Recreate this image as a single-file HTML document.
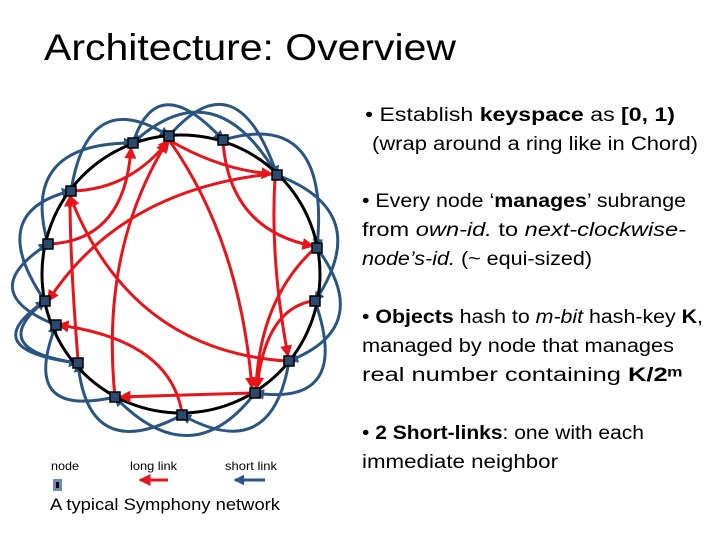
<!DOCTYPE html>
<html><head><meta charset="utf-8"><style>
html,body{margin:0;padding:0;background:#fff;}
svg{display:block}
text{font-family:"Liberation Sans",sans-serif;}
</style></head><body>
<svg width="720" height="540" viewBox="0 0 720 540" xmlns="http://www.w3.org/2000/svg">
<defs>
<marker id="ar" markerWidth="4" markerHeight="4" refX="3.5" refY="2" orient="auto" markerUnits="strokeWidth"><path d="M0,0 L4,2 L0,4 z" fill="#e8141b"/></marker>
<marker id="ab" markerWidth="3.5" markerHeight="3.5" refX="3" refY="1.75" orient="auto" markerUnits="strokeWidth"><path d="M0,0 L3.5,1.75 L0,3.5 z" fill="#2a5582"/></marker>
</defs>
<text x="44" y="60" font-size="37" fill="#000" textLength="412" lengthAdjust="spacingAndGlyphs">Architecture: Overview</text>

<g fill="none" stroke="#2a5582" stroke-width="3" marker-end="url(#ab)">
<path d="M133,143 Q157,68 223,140"/>
<path d="M169,136 Q237,57 277,175"/>
<path d="M223,140 Q331,108 317,248"/>
<path d="M277,175 Q375,212 315,301"/>
<path d="M317,248 Q375,327 289,361"/>
<path d="M315,301 Q352,407 255,393"/>
<path d="M289,361 Q272,465 182,415"/>
<path d="M255,393 Q191,476 115,397"/>
<path d="M182,415 Q88,465 78,363"/>
<path d="M115,397 Q19,419 56,325"/>
<path d="M78,363 Q-16,350 45,301"/>
<path d="M56,325 Q-27,292 48,244"/>
<path d="M45,301 Q-16,212 71,191"/>
<path d="M48,244 Q19,143 133,143"/>
<path d="M71,191 Q88,85 169,136"/>
<path d="M277,175 Q214,68 133,143"/>
<path d="M45,301 Q-27,350 78,363"/>
</g>

<circle cx="181" cy="274" r="139" fill="none" stroke="#000" stroke-width="3"/>

<g fill="none" stroke="#e8141b" stroke-width="3" marker-end="url(#ar)">
<path d="M71,191 Q130,190 169,140"/>
<path d="M169,140 Q220,170 272,174"/>
<path d="M50,244 Q125,240 131,148"/>
<path d="M271,174 Q120,190 48,301"/>
<path d="M169,140 Q240,240 252,388"/>
<path d="M275,178 Q270,260 288,356"/>
<path d="M223,142 Q230,230 313,246"/>
<path d="M313,250 Q260,300 256,388"/>
<path d="M312,301 Q265,310 257,388"/>
<path d="M286,361 Q130,350 70,196"/>
<path d="M252,393 L120,397"/>
<path d="M115,397 Q100,250 167,142"/>
<path d="M182,413 Q170,340 58,325"/>
<path d="M78,360 Q70,260 70,196"/>
</g>

<g fill="#2a4a70" stroke="#000" stroke-width="1.5">
<rect x="128" y="138" width="10" height="10"/>
<rect x="164" y="131" width="10" height="10"/>
<rect x="218" y="135" width="10" height="10"/>
<rect x="272" y="170" width="10" height="10"/>
<rect x="312" y="243" width="10" height="10"/>
<rect x="310" y="296" width="10" height="10"/>
<rect x="284" y="356" width="10" height="10"/>
<rect x="250" y="388" width="10" height="10"/>
<rect x="177" y="410" width="10" height="10"/>
<rect x="110" y="392" width="10" height="10"/>
<rect x="73" y="358" width="10" height="10"/>
<rect x="51" y="320" width="10" height="10"/>
<rect x="40" y="296" width="10" height="10"/>
<rect x="43" y="239" width="10" height="10"/>
<rect x="66" y="186" width="10" height="10"/>
</g>

<text x="51" y="470" font-size="12" textLength="28" lengthAdjust="spacingAndGlyphs">node</text>
<text x="130" y="470" font-size="12" textLength="47" lengthAdjust="spacingAndGlyphs">long link</text>
<text x="225" y="470" font-size="12" textLength="52" lengthAdjust="spacingAndGlyphs">short link</text>
<rect x="53" y="479" width="9" height="12" fill="#6b8cb5"/>
<rect x="56" y="482" width="3" height="6" fill="#000"/>
<line x1="168" y1="480" x2="140" y2="480" stroke="#e8141b" stroke-width="3" marker-end="url(#ar)"/>
<line x1="265" y1="480" x2="235" y2="480" stroke="#2a5582" stroke-width="3" marker-end="url(#ab)"/>
<text x="50" y="510" font-size="17" textLength="230" lengthAdjust="spacingAndGlyphs">A typical Symphony network</text>

<g font-size="19" fill="#000">
<text x="365" y="121" textLength="310" lengthAdjust="spacingAndGlyphs">• Establish <tspan font-weight="bold">keyspace</tspan> as <tspan font-weight="bold">[0, 1)</tspan></text>
<text x="372" y="150" textLength="326" lengthAdjust="spacingAndGlyphs">(wrap around a ring like in Chord)</text>
<text x="362" y="207" textLength="324" lengthAdjust="spacingAndGlyphs">• Every node ‘<tspan font-weight="bold">manages</tspan>’ subrange</text>
<text x="362" y="236" textLength="324" lengthAdjust="spacingAndGlyphs">from <tspan font-style="italic">own-id.</tspan> to <tspan font-style="italic">next-clockwise-</tspan></text>
<text x="362" y="265" textLength="230" lengthAdjust="spacingAndGlyphs"><tspan font-style="italic">node’s-id.</tspan> (~ equi-sized)</text>
<text x="362" y="323" textLength="341" lengthAdjust="spacingAndGlyphs">• <tspan font-weight="bold">Objects</tspan> hash to <tspan font-style="italic">m-bit</tspan> hash-key <tspan font-weight="bold">K</tspan>,</text>
<text x="362" y="352" textLength="312" lengthAdjust="spacingAndGlyphs">managed by node that manages</text>
<text x="362" y="381" textLength="320" lengthAdjust="spacingAndGlyphs">real  number containing <tspan font-weight="bold">K/2ᵐ</tspan></text>
<text x="362" y="439" textLength="282" lengthAdjust="spacingAndGlyphs">• <tspan font-weight="bold">2 Short-links</tspan>: one with each</text>
<text x="362" y="468" textLength="196" lengthAdjust="spacingAndGlyphs">immediate neighbor</text>
</g>
</svg>
</body></html>
